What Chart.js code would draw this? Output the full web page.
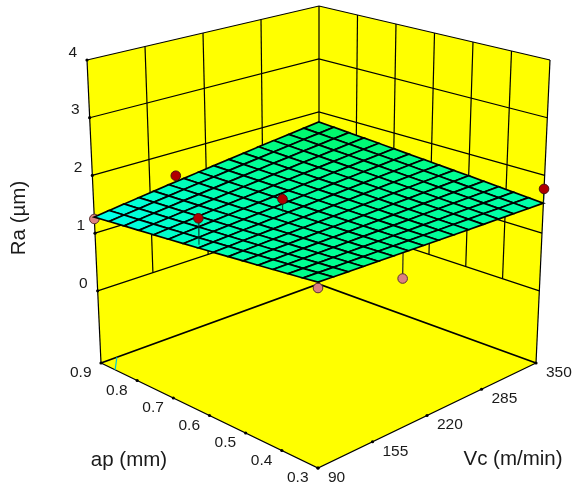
<!DOCTYPE html>
<html>
<head>
<meta charset="utf-8">
<style>
  html, body { margin: 0; padding: 0; background: #fff; }
  canvas { display: block; }
</style>
<script src="https://cdn.jsdelivr.net/npm/chart.js@4"></script>
</head>
<body>
<canvas id="surfaceChart" width="574" height="486"></canvas>
<script>
// axes
const vcTicks = [90, 155, 220, 285, 350];
const apTicks = [0.3, 0.4, 0.5, 0.6, 0.7, 0.8, 0.9];
const raTicks = [0, 1, 2, 3, 4];
const raFloor = -1.25;

// response surface, rows follow surfaceAp, columns follow surfaceVc
const surfaceVc = [90, 107.33, 124.67, 142, 159.33, 176.67, 194, 211.33, 228.67, 246, 263.33, 280.67, 298, 315.33, 332.67, 350];
const surfaceAp = [0.3, 0.34, 0.38, 0.42, 0.46, 0.5, 0.54, 0.58, 0.62, 0.66, 0.7, 0.74, 0.78, 0.82, 0.86, 0.9];
const surfaceRa = [
  [1.700, 1.688, 1.676, 1.664, 1.652, 1.640, 1.628, 1.616, 1.604, 1.592, 1.580, 1.568, 1.556, 1.544, 1.532, 1.520],
  [1.672, 1.663, 1.654, 1.645, 1.637, 1.628, 1.619, 1.610, 1.601, 1.592, 1.584, 1.575, 1.566, 1.557, 1.548, 1.539],
  [1.644, 1.638, 1.633, 1.627, 1.621, 1.616, 1.610, 1.604, 1.598, 1.593, 1.587, 1.581, 1.576, 1.570, 1.564, 1.559],
  [1.616, 1.613, 1.611, 1.608, 1.606, 1.603, 1.601, 1.598, 1.596, 1.593, 1.591, 1.588, 1.586, 1.583, 1.581, 1.578],
  [1.588, 1.589, 1.589, 1.590, 1.590, 1.591, 1.592, 1.592, 1.593, 1.593, 1.594, 1.595, 1.595, 1.596, 1.596, 1.597],
  [1.560, 1.564, 1.568, 1.571, 1.575, 1.579, 1.583, 1.587, 1.590, 1.594, 1.598, 1.602, 1.606, 1.609, 1.613, 1.617],
  [1.532, 1.539, 1.546, 1.553, 1.560, 1.567, 1.574, 1.581, 1.587, 1.594, 1.601, 1.608, 1.615, 1.622, 1.629, 1.636],
  [1.504, 1.514, 1.524, 1.534, 1.544, 1.554, 1.564, 1.574, 1.585, 1.595, 1.605, 1.615, 1.625, 1.635, 1.645, 1.655],
  [1.476, 1.489, 1.503, 1.516, 1.529, 1.542, 1.556, 1.569, 1.582, 1.595, 1.609, 1.622, 1.635, 1.648, 1.662, 1.675],
  [1.448, 1.464, 1.481, 1.497, 1.514, 1.530, 1.546, 1.563, 1.579, 1.596, 1.612, 1.628, 1.645, 1.661, 1.678, 1.694],
  [1.420, 1.440, 1.459, 1.479, 1.498, 1.518, 1.537, 1.557, 1.576, 1.596, 1.615, 1.635, 1.654, 1.674, 1.693, 1.713],
  [1.392, 1.415, 1.437, 1.460, 1.483, 1.506, 1.528, 1.551, 1.574, 1.597, 1.619, 1.642, 1.665, 1.688, 1.710, 1.733],
  [1.364, 1.390, 1.416, 1.442, 1.467, 1.493, 1.519, 1.545, 1.571, 1.597, 1.623, 1.649, 1.674, 1.700, 1.726, 1.752],
  [1.336, 1.365, 1.394, 1.423, 1.452, 1.481, 1.510, 1.539, 1.568, 1.597, 1.626, 1.655, 1.684, 1.713, 1.742, 1.771],
  [1.308, 1.340, 1.372, 1.405, 1.437, 1.469, 1.501, 1.533, 1.566, 1.598, 1.630, 1.662, 1.694, 1.727, 1.759, 1.791],
  [1.280, 1.315, 1.351, 1.386, 1.421, 1.457, 1.492, 1.527, 1.563, 1.598, 1.633, 1.669, 1.704, 1.739, 1.775, 1.810],
];

// measured runs and the surface height under each of them
const pointVc = [90, 185, 95, 189, 188, 350, 90];
const pointAp = [0.9, 0.9, 0.63, 0.624, 0.3, 0.3, 0.3];
const pointRa = [1.246, 1.58, 1.92, 1.798, 1.207, 1.766, 1.607];
const pointFootRa = [1.28, 1.473, 1.48, 1.58, 1.631, 1.52, 1.70];

// small contour piece on the floor near the 0.9 corner
const contourVc = [109, 90];
const contourAp = [0.9, 0.861];

// projected cube corners, named by [Vc end][ap end]
const cube = {
  floor: { lowLow: [318, 468], highLow: [536, 363], lowHigh: [101, 363], highHigh: [318.5, 284] },
  top: { lowLow: [318, 137.25], highLow: [550, 60], lowHigh: [87, 60], highHigh: [319, 6] },
};

function project(vc, ap, ra) {
  const u = (vc - 90) / 260;
  const v = (ap - 0.3) / 0.6;
  const w = (ra - raFloor) / (4 - raFloor);
  const out = [0, 1].map((i) => {
    const lower = cube.floor.lowLow[i] * (1 - u) * (1 - v) + cube.floor.highLow[i] * u * (1 - v)
      + cube.floor.lowHigh[i] * (1 - u) * v + cube.floor.highHigh[i] * u * v;
    const upper = cube.top.lowLow[i] * (1 - u) * (1 - v) + cube.top.highLow[i] * u * (1 - v)
      + cube.top.lowHigh[i] * (1 - u) * v + cube.top.highHigh[i] * u * v;
    return lower * (1 - w) + upper * w;
  });
  return { x: out[0], y: out[1] };
}

function surfaceColor(ra) {
  const blue = Math.max(105, Math.min(245, 240 - (ra - 1.28) * 270));
  const green = ra > 1.62 ? 255 - (ra - 1.62) * 50 : 255;
  return `rgb(0, ${Math.round(green)}, ${Math.round(blue)})`;
}

const paintOrder = [];

function addLine(points, width, color) {
  paintOrder.push({
    data: points,
    showLine: true,
    fill: false,
    borderColor: color || '#000',
    borderWidth: width,
    pointRadius: 0,
    tension: 0,
  });
}

function addShape(points, fillColor, lineWidth, lineColor) {
  paintOrder.push({
    data: points,
    showLine: true,
    fill: 'shape',
    backgroundColor: fillColor,
    borderColor: lineColor || fillColor,
    borderWidth: lineWidth,
    pointRadius: 0,
    tension: 0,
  });
}

function addDots(points, radius, fillColor, lineColor) {
  paintOrder.push({
    data: points,
    showLine: false,
    backgroundColor: fillColor,
    borderColor: lineColor,
    borderWidth: lineColor === fillColor ? 0 : 1,
    pointRadius: radius,
  });
}

const vcMin = vcTicks[0];
const vcMax = vcTicks[vcTicks.length - 1];
const apMin = apTicks[0];
const apMax = apTicks[apTicks.length - 1];
const raMax = raTicks[raTicks.length - 1];

// walls and floor
addShape([project(vcMin, apMax, raFloor), project(vcMax, apMax, raFloor), project(vcMax, apMax, raMax), project(vcMin, apMax, raMax), project(vcMin, apMax, raFloor)], '#ffff00', 0);
addShape([project(vcMax, apMax, raFloor), project(vcMax, apMin, raFloor), project(vcMax, apMin, raMax), project(vcMax, apMax, raMax), project(vcMax, apMax, raFloor)], '#ffff00', 0);
addShape([project(vcMin, apMin, raFloor), project(vcMax, apMin, raFloor), project(vcMax, apMax, raFloor), project(vcMin, apMax, raFloor), project(vcMin, apMin, raFloor)], '#ffff00', 0);

// wall grid
for (const ra of raTicks) {
  addLine([project(vcMin, apMax, ra), project(vcMax, apMax, ra), project(vcMax, apMin, ra)], 1.2);
}
for (const vc of vcTicks.slice(1, -1)) {
  addLine([project(vc, apMax, 0), project(vc, apMax, raMax)], 1.2);
}
for (const ap of apTicks.slice(1, -1)) {
  addLine([project(vcMax, ap, 0), project(vcMax, ap, raMax)], 1.2);
}
addLine([project(vcMin, apMax, raFloor), project(vcMin, apMax, raMax)], 1.2);
addLine([project(vcMax, apMin, raFloor), project(vcMax, apMin, raMax)], 1.2);
addLine([project(vcMax, apMax, raFloor), project(vcMax, apMax, raMax)], 1.2);

// floor edges
addLine([project(vcMin, apMax, raFloor), project(vcMax, apMax, raFloor), project(vcMax, apMin, raFloor)], 1.8);
addLine([project(vcMin, apMax, raFloor), project(vcMin, apMin, raFloor), project(vcMax, apMin, raFloor)], 1.3);
addLine(contourVc.map((vc, i) => project(vc, contourAp[i], raFloor)), 1.2, '#00c8d8');

// runs under the surface go first so the surface covers their stems
pointRa.forEach((ra, i) => {
  if (ra < pointFootRa[i]) {
    addLine([project(pointVc[i], pointAp[i], ra), project(pointVc[i], pointAp[i], pointFootRa[i])], 1.2, '#222');
    addDots([project(pointVc[i], pointAp[i], ra)], 4.8, '#dc8080', '#5a3030');
  }
});

// surface cells, back to front
for (let r = surfaceAp.length - 2; r >= 0; r--) {
  for (let c = surfaceVc.length - 2; c >= 0; c--) {
    const mean = (surfaceRa[r][c] + surfaceRa[r][c + 1] + surfaceRa[r + 1][c] + surfaceRa[r + 1][c + 1]) / 4;
    addShape([
      project(surfaceVc[c], surfaceAp[r], surfaceRa[r][c]),
      project(surfaceVc[c + 1], surfaceAp[r], surfaceRa[r][c + 1]),
      project(surfaceVc[c + 1], surfaceAp[r + 1], surfaceRa[r + 1][c + 1]),
      project(surfaceVc[c], surfaceAp[r + 1], surfaceRa[r + 1][c]),
      project(surfaceVc[c], surfaceAp[r], surfaceRa[r][c]),
    ], surfaceColor(mean), 1.7, '#000');
  }
}

// runs above the surface
pointRa.forEach((ra, i) => {
  if (ra >= pointFootRa[i]) {
    addLine([project(pointVc[i], pointAp[i], ra), project(pointVc[i], pointAp[i], pointFootRa[i])], 1.2, 'rgba(0, 40, 30, 0.75)');
    addDots([project(pointVc[i], pointAp[i], ra)], 4.8, '#b00000', '#4a1010');
  }
});

// tick dots
addDots(raTicks.map((ra) => project(vcMin, apMax, ra)), 1.6, '#000', '#000');
addDots(apTicks.map((ap) => project(vcMin, ap, raFloor)), 1.6, '#000', '#000');
addDots(vcTicks.map((vc) => project(vc, apMin, raFloor)), 1.6, '#000', '#000');

const axisText = {
  id: 'axisText',
  afterDatasetsDraw(chart) {
    const { ctx, scales } = chart;
    const put = (text, at, dx, dy, align) => {
      ctx.textAlign = align;
      ctx.fillText(text, scales.x.getPixelForValue(at.x) + dx, scales.y.getPixelForValue(at.y) + dy);
    };
    ctx.save();
    ctx.fillStyle = '#1a1a1a';
    ctx.textBaseline = 'middle';
    ctx.font = '15.5px "Liberation Sans"';
    raTicks.forEach((ra) => put(String(ra), project(vcMin, apMax, ra), -10, -7.5, 'right'));
    apTicks.forEach((ap) => put(ap.toFixed(1), project(vcMin, ap, raFloor), -9.5, 10, 'right'));
    vcTicks.forEach((vc) => put(String(vc), project(vc, apMin, raFloor), 10, 9.5, 'left'));
    ctx.font = '20.5px "Liberation Sans"';
    ctx.textAlign = 'center';
    ctx.fillText('ap (mm)', scales.x.getPixelForValue(129), scales.y.getPixelForValue(460));
    ctx.fillText('Vc (m/min)', scales.x.getPixelForValue(513), scales.y.getPixelForValue(459));
    ctx.translate(scales.x.getPixelForValue(19), scales.y.getPixelForValue(218));
    ctx.rotate(-Math.PI / 2);
    ctx.fillText('Ra (µm)', 0, 0);
    ctx.restore();
  },
};

// chart.js paints the last dataset first
const datasets = paintOrder.reverse();

new Chart(document.getElementById('surfaceChart').getContext('2d'), {
  type: 'scatter',
  data: { datasets },
  plugins: [axisText],
  options: {
    responsive: false,
    animation: false,
    events: [],
    layout: { padding: 0, autoPadding: false },
    plugins: {
      legend: { display: false },
      tooltip: { enabled: false },
    },
    scales: {
      x: { type: 'linear', display: false, min: 0, max: 574 },
      y: { type: 'linear', display: false, min: 0, max: 486, reverse: true },
    },
  },
});
</script>
</body>
</html>
